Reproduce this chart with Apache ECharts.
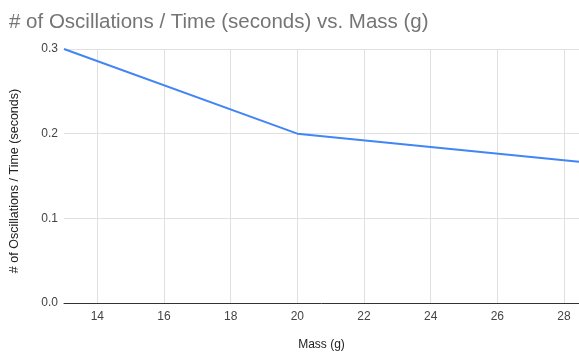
<!DOCTYPE html>
<html><head><meta charset="utf-8">
<script src="https://cdn.jsdelivr.net/npm/echarts@6/dist/echarts.min.js"></script>
<style>html,body{margin:0;padding:0;background:#fff}#c{width:579px;height:353px}</style>
</head><body><div id="c"></div>
<script>
const titleText = "# of Oscillations / Time (seconds) vs. Mass (g)";
const xName = "Mass (g)";
const yName = "# of Oscillations / Time (seconds)";
const massValues = [13, 20, 28.45];
const rateValues = [0.3, 0.2, 0.1667];
const xTicks = [14, 16, 18, 20, 22, 24, 26, 28];
const yTicks = [0, 0.1, 0.2, 0.3];

const font = "Arial, 'Liberation Sans', sans-serif";
const chart = echarts.init(document.getElementById('c'), null, {renderer: 'canvas'});
chart.setOption({
  animation: false,
  backgroundColor: '#ffffff',
  title: {
    text: titleText, left: 4, top: 7,
    textStyle: {fontFamily: font, fontSize: 20.5, fontWeight: 'normal', color: '#757575'}
  },
  grid: {left: 64, right: 0, top: 49, bottom: 50, containLabel: false, outerBoundsMode: 'none'},
  xAxis: {
    type: 'value', min: 13, max: 28.45,
    name: xName, nameLocation: 'middle', nameGap: 36,
    nameTextStyle: {fontFamily: font, fontSize: 12, color: '#222'},
    axisLine: {show: true, lineStyle: {color: '#333', width: 1}},
    axisTick: {show: false, customValues: xTicks},
    axisLabel: {customValues: xTicks, fontFamily: font, fontSize: 12, color: '#444', margin: 8},
    splitLine: {show: true, lineStyle: {color: '#e0e0e0', width: 1}}
  },
  yAxis: {
    type: 'value', min: 0, max: 0.3, interval: 0.1,
    name: yName, nameLocation: 'middle', nameGap: 43, nameRotate: 90,
    nameTextStyle: {fontFamily: font, fontSize: 12.5, color: '#222', padding: [0, 10, 0, 0]},
    axisLine: {show: false},
    axisTick: {show: false},
    axisLabel: {fontFamily: font, fontSize: 12, color: '#444', margin: 6,
      formatter: v => v.toFixed(1)},
    splitLine: {show: true, lineStyle: {color: '#e0e0e0', width: 1}}
  },
  series: [{
    type: 'line',
    data: massValues.map((m, i) => [m, rateValues[i]]),
    showSymbol: false,
    lineStyle: {color: '#4285f4', width: 2},
    itemStyle: {color: '#4285f4'},
    z: 5
  }]
});
</script>
</body></html>
